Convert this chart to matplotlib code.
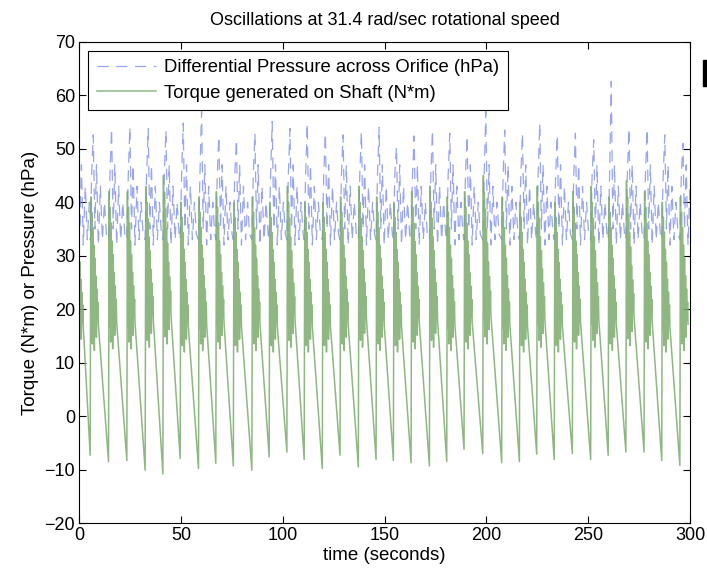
import numpy as np
import matplotlib
matplotlib.use("Agg")
import matplotlib.pyplot as plt
from matplotlib.patches import Rectangle

plt.rcParams['font.family'] = ['Liberation Sans', 'DejaVu Sans']

# Tiefpunkte des Drehmoments je Zyklus
trough_t = [-2.0, 5.4, 14.4, 23.4, 32.4, 41.1, 49.6, 58.6, 67.1, 75.7, 84.8, 93.3, 102.0,
            110.5, 119.4, 128.1, 137.1, 145.8, 154.3, 163.0, 172.0, 180.5, 189.0, 198.2,
            207.5, 216.2, 224.7, 233.3, 242.2, 251.2, 259.8, 268.5, 277.4, 286.1, 295.0]
trough_v = [-8.0, -7.3, -8.5, -8.3, -10.1, -10.8, -7.9, -9.8, -8.8, -9.3, -10.1, -7.6, -6.7,
            -8.1, -9.8, -7.3, -9.5, -8.1, -8.3, -8.7, -9.3, -8.5, -6.2, -7.0,
            -8.7, -8.5, -7.1, -8.1, -7.0, -8.1, -7.3, -6.7, -6.7, -8.3, -9.2]
# Spitzen Drehmoment und Druck je Zyklus
torque_peak = [40, 41, 42, 42, 43, 45, 40, 41, 42, 40, 41, 40, 43,
               40, 40, 41, 43, 41, 40, 42, 43, 41, 42, 45,
               41, 40, 43, 40, 42, 43, 41, 44, 42, 40, 41]
press_peak = [53.0, 52.6, 53.8, 54.1, 53.8, 53.5, 54.8, 57.0, 52.3, 51.7, 52.9, 55.1, 53.8,
              54.8, 52.9, 52.6, 53.2, 54.0, 50.4, 52.4, 53.5, 52.9, 52.4, 57.0,
              53.5, 52.9, 54.8, 52.6, 52.9, 51.7, 62.6, 53.8, 53.7, 52.6, 51.0]

# Verlauf innerhalb eines Zyklus (Zeit nach Tiefpunkt, Anteil der Spitze)
band_dt = [0.3, 0.55, 0.8, 1.05, 1.3, 1.55, 1.8, 2.05, 2.3, 2.55, 2.8, 3.05, 3.3, 3.55, 3.8, 4.0]
band_frac = [1.0, 0.40, 0.93, 0.33, 0.86, 0.42, 0.78, 0.30, 0.72, 0.45, 0.64, 0.36, 0.58, 0.44, 0.52, 0.42]

press_dt = [0.0, 0.7, 1.5, 2.3, 3.1, 4.0, 5.0, 6.0, 7.0, 8.0]
press_v = [33, 45, None, 35, 47, 32, 43, 33, 40, 34]

t_tq, v_tq = [], []
t_pr, v_pr = [], []
for k in range(len(trough_t)):
    t_tq.append(trough_t[k])
    v_tq.append(trough_v[k])
    for dt, fr in zip(band_dt, band_frac):
        t_tq.append(trough_t[k] + dt)
        v_tq.append(fr * torque_peak[k])
    for dt, pv in zip(press_dt, press_v):
        t_pr.append(trough_t[k] + dt)
        v_pr.append(press_peak[k] if pv is None else pv)

fig = plt.figure(figsize=(7.07, 5.73), dpi=100)
ax = fig.add_axes([0.112, 0.087, 0.864, 0.840])

ax.plot(t_pr, v_pr, color='#7f8eec', linestyle=(0, (9, 6)), linewidth=0.9, alpha=0.8,
        label='Differential Pressure across Orifice (hPa)')
ax.plot(t_tq, v_tq, color='#7aab6c', linewidth=1.1, alpha=0.85,
        label='Torque generated on Shaft (N*m)')

ax.set_xlim(0, 300)
ax.set_ylim(-20, 70)
ax.set_xticks(np.arange(0, 301, 50))
ax.set_yticks(np.arange(-20, 71, 10))
ax.tick_params(direction='in', top=True, right=True, labelsize=13, length=5, pad=3)
ax.set_title('Oscillations at 31.4 rad/sec rotational speed', fontsize=13, pad=12)
ax.set_xlabel('time (seconds)', fontsize=13.5, labelpad=2)
ax.set_ylabel('Torque (N*m) or Pressure (hPa)', fontsize=13.5, labelpad=4)

leg = ax.legend(loc='upper left', fontsize=13.3, handlelength=3.2, handletextpad=0.45,
                fancybox=False, framealpha=1, edgecolor='black', borderaxespad=0.5,
                borderpad=0.45, labelspacing=0.45)
leg.get_frame().set_linewidth(0.8)

fig.add_artist(Rectangle((0.994, 1 - 86 / 573), 0.006, 26 / 573,
                         transform=fig.transFigure, color='black'))

plt.savefig('out.png', dpi=100)
